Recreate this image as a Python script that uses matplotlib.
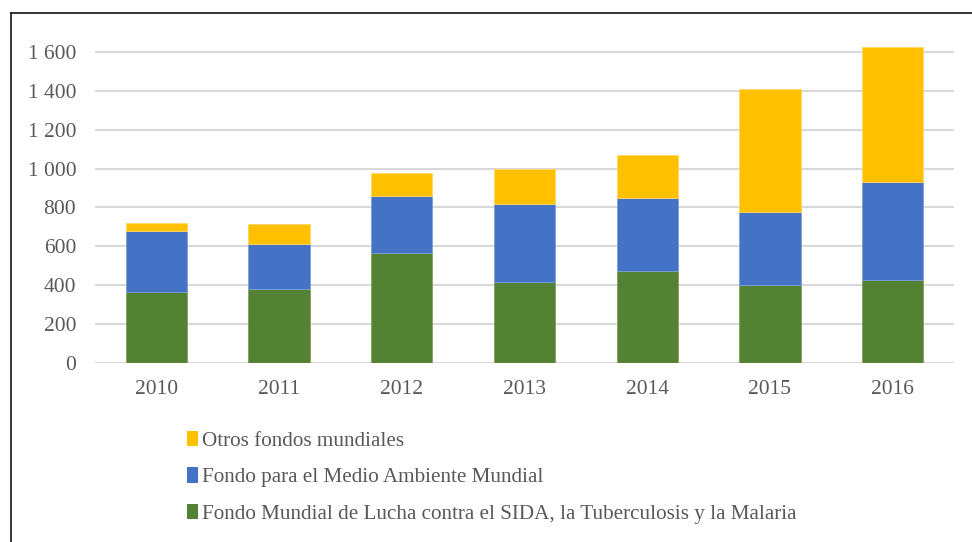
import numpy as np
import matplotlib.pyplot as plt
from matplotlib.patches import Patch
from matplotlib.lines import Line2D

# datos
years = ['2010', '2011', '2012', '2013', '2014', '2015', '2016']
fondo_sida = [368, 380, 568, 415, 472, 402, 426]
fondo_ambiente = [311, 234, 292, 402, 378, 376, 506]
otros_fondos = [39, 101, 118, 180, 218, 629, 695]

labels = ['Otros fondos mundiales',
          'Fondo para el Medio Ambiente Mundial',
          'Fondo Mundial de Lucha contra el SIDA, la Tuberculosis y la Malaria']
colors = ['#FFC000', '#4472C4', '#548235']
text_color = '#595959'

plt.rcParams['font.family'] = ['Liberation Serif', 'DejaVu Serif']

fig = plt.figure(figsize=(9.72, 5.42), dpi=100)
ax = fig.add_axes([0.0977, 0.330, 0.8838, 0.596])

x = np.arange(len(years))
w = 0.5
g = np.array(fondo_sida)
b = np.array(fondo_ambiente)
o = np.array(otros_fondos)
ax.bar(x, g, w, color=colors[2], edgecolor='#7fa060', linewidth=0.6, zorder=3)
ax.bar(x, b, w, bottom=g, color=colors[1], edgecolor='#7f9fd8', linewidth=0.6, zorder=3)
ax.bar(x, o, w, bottom=g + b, color=colors[0], edgecolor='#ffd766', linewidth=0.6, zorder=3)

ax.set_xlim(-0.5, len(years) - 0.5)
ax.set_ylim(0, 1660)
ax.set_yticks(np.arange(0, 1601, 200))
ax.set_yticklabels([f'{v:,}'.replace(',', ' ') for v in range(0, 1601, 200)])
ax.set_xticks(x)
ax.set_xticklabels(years)
ax.tick_params(length=0, labelsize=15.5, colors=text_color)
ax.tick_params(axis='y', pad=13.5)
ax.tick_params(axis='x', pad=12)
ax.grid(axis='y', color='#d9d9d9', linewidth=1.5, zorder=0)
for s in ax.spines.values():
    s.set_visible(False)

handles = [Patch(facecolor=c) for c in colors]
fig.legend(handles, labels, loc='upper left', bbox_to_anchor=(0.184, 0.221),
           frameon=False, fontsize=15.2, labelcolor=text_color,
           handlelength=0.5, handleheight=0.75, handletextpad=0.2,
           labelspacing=0.78, borderaxespad=0)

# marco exterior (izquierda y arriba)
fig.add_artist(Line2D([11 / 972, 11 / 972], [0, 1 - 12.5 / 542], color='#262626', linewidth=1.3))
fig.add_artist(Line2D([11 / 972, 1], [1 - 12.5 / 542, 1 - 12.5 / 542], color='#262626', linewidth=1.3))

fig.savefig('out.png', dpi=100)
